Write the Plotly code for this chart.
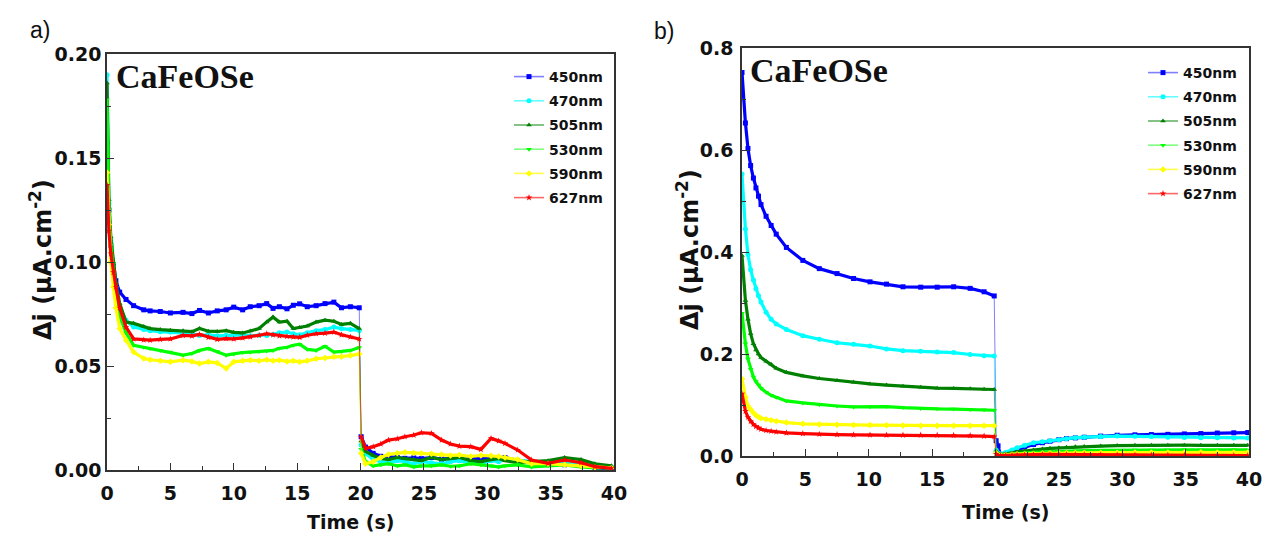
import plotly.graph_objects as go

W, H = 1263, 535

labels = ["450nm", "470nm", "505nm", "530nm", "590nm", "627nm"]
colors = ["#0000FF", "#00FFFF", "#008000", "#00FF00", "#FFFF00", "#FF0000"]
legend_line_colors = ["rgba(0,0,255,0.5)", "rgba(0,255,255,0.6)", "rgba(0,128,0,0.6)",
                      "rgba(0,255,0,0.5)", "rgba(255,255,0,0.7)", "rgba(255,0,0,0.6)"]
symbols = ["square", "circle", "triangle-up", "triangle-down", "diamond", "star"]

# ---------------- panel a) ----------------
ta_on = [0, 0.15, 0.3, 0.5, 0.7, 1.0, 1.5, 2.1, 2.9, 3.4, 4.2, 5, 6, 6.7, 7.3, 8, 8.7, 9.4, 10,
         10.7, 11.3, 12, 12.6, 13.1, 13.6, 14.2, 14.7, 15.2, 15.8, 16.5, 17.2, 17.9, 18.5, 19.2, 19.9]
a_450_on = [0.157, 0.125, 0.108, 0.098, 0.091, 0.0855, 0.082, 0.079, 0.077, 0.0765, 0.0762, 0.0755,
            0.0758, 0.0752, 0.0767, 0.0755, 0.0765, 0.077, 0.0783, 0.077, 0.0785, 0.079, 0.080,
            0.0777, 0.0785, 0.0775, 0.0792, 0.0799, 0.0785, 0.079, 0.080, 0.0807, 0.078, 0.0785, 0.078]
a_470_on = [0.19, 0.128, 0.11, 0.098, 0.088, 0.078, 0.072, 0.0687, 0.0675, 0.067, 0.0665, 0.0663,
            0.066, 0.0655, 0.0647, 0.065, 0.0645, 0.0648, 0.0647, 0.065, 0.0645, 0.0648, 0.0647,
            0.0652, 0.066, 0.0663, 0.0655, 0.065, 0.066, 0.067, 0.0675, 0.0687, 0.068, 0.0675, 0.0671]
a_505_on = [0.186, 0.13, 0.112, 0.1, 0.09, 0.08, 0.0711, 0.0705, 0.069, 0.068, 0.0675, 0.0672,
            0.067, 0.0665, 0.068, 0.0667, 0.0666, 0.067, 0.0662, 0.0659, 0.0668, 0.068, 0.0712,
            0.0735, 0.0711, 0.0715, 0.068, 0.0685, 0.0692, 0.0711, 0.072, 0.0715, 0.070, 0.0705, 0.068]
a_530_on = [0.178, 0.125, 0.108, 0.095, 0.085, 0.074, 0.066, 0.06, 0.059, 0.0584, 0.0575, 0.0567,
            0.0552, 0.056, 0.0575, 0.0584, 0.057, 0.0552, 0.0558, 0.0565, 0.0567, 0.057, 0.0572,
            0.0575, 0.0585, 0.059, 0.060, 0.0605, 0.058, 0.0575, 0.0595, 0.0567, 0.057, 0.0575, 0.0589]
a_590_on = [0.143, 0.118, 0.1, 0.088, 0.078, 0.068, 0.0624, 0.0567, 0.0536, 0.053, 0.0525, 0.052,
            0.0528, 0.0522, 0.0512, 0.052, 0.0515, 0.0488, 0.052, 0.0525, 0.0528, 0.0525, 0.053,
            0.0525, 0.0528, 0.0522, 0.0525, 0.052, 0.0525, 0.0535, 0.0538, 0.0544, 0.0545, 0.055, 0.0558]
a_627_on = [0.137, 0.115, 0.104, 0.095, 0.088, 0.078, 0.0687, 0.063, 0.0625, 0.0624, 0.0628, 0.063,
            0.0647, 0.0645, 0.0652, 0.0638, 0.0628, 0.0632, 0.063, 0.0635, 0.064, 0.0648, 0.0655,
            0.065, 0.0645, 0.0642, 0.064, 0.0638, 0.0648, 0.0655, 0.0658, 0.0663, 0.065, 0.064, 0.063]

ta_off = [20.05, 20.4, 21, 21.6, 22.2, 22.9, 23.5, 24.2, 24.8, 25.6, 26.4, 27.1, 27.8, 28.7, 29.5,
          30.3, 30.9, 31.4, 32.4, 33.5, 34.8, 36.1, 37.4, 38.5, 39.8]
a_450_off = [0.016, 0.011, 0.008, 0.0066, 0.0064, 0.006, 0.0056, 0.0058, 0.0055, 0.006, 0.0052, 0.0056,
             0.005, 0.0054, 0.0056, 0.0056, 0.0058, 0.006, 0.0045, 0.004, 0.0032, 0.0025, 0.0035, 0.001, 0.0005]
a_470_off = [0.012, 0.008, 0.005, 0.004, 0.0035, 0.0045, 0.004, 0.003, 0.004, 0.0035, 0.003, 0.004,
             0.0045, 0.0035, 0.003, 0.0045, 0.004, 0.005, 0.0045, 0.004, 0.0035, 0.004, 0.003, 0.002, 0.0015]
a_505_off = [0.014, 0.009, 0.007, 0.0055, 0.005, 0.006, 0.0055, 0.005, 0.0045, 0.006, 0.005, 0.0055,
             0.006, 0.0045, 0.004, 0.005, 0.0055, 0.0045, 0.0035, 0.004, 0.0045, 0.006, 0.005, 0.003, 0.002]
a_530_off = [0.01, 0.004, 0.002, 0.0025, 0.003, 0.002, 0.0025, 0.0015, 0.002, 0.002, 0.0025, 0.0018,
             0.002, 0.003, 0.0025, 0.002, 0.0015, 0.002, 0.0025, 0.0015, 0.002, 0.0025, 0.0015, 0.001, 0.001]
a_590_off = [0.008, 0.003, 0.004, 0.006, 0.0075, 0.008, 0.0085, 0.0082, 0.008, 0.0078, 0.0075, 0.007,
             0.0072, 0.0065, 0.007, 0.0068, 0.0065, 0.006, 0.005, 0.003, 0.003, 0.0025, 0.002, 0.0012, 0.001]
a_627_off = [0.016, 0.0104, 0.0112, 0.0125, 0.0144, 0.015, 0.016, 0.0168, 0.0179, 0.0176, 0.0144, 0.0125,
             0.0115, 0.0112, 0.0099, 0.0152, 0.014, 0.0128, 0.0096, 0.0048, 0.0032, 0.0048, 0.0035, 0.0016, 0.0008]

# ---------------- panel b) ----------------
tb_on = [0, 0.27, 0.47, 0.68, 0.9, 1.1, 1.3, 1.5, 1.9, 2.3, 2.7, 3.5, 4.8, 6.1, 7.5, 8.8, 10.1, 11.4,
         12.7, 14.1, 15.4, 16.7, 18.0, 19.1, 19.9]
b_450_on = [0.752, 0.653, 0.603, 0.5695, 0.545, 0.5256, 0.5095, 0.493, 0.47, 0.452, 0.435, 0.409, 0.3835,
            0.3674, 0.3577, 0.348, 0.3415, 0.337, 0.3318, 0.331, 0.331, 0.3318, 0.3287, 0.322, 0.3138]
b_470_on = [0.5527, 0.445, 0.395, 0.365, 0.345, 0.328, 0.314, 0.302, 0.282, 0.268, 0.259, 0.248, 0.236,
            0.229, 0.222, 0.219, 0.2156, 0.21, 0.2065, 0.2053, 0.204, 0.2027, 0.199, 0.1965, 0.196]
b_505_on = [0.393, 0.305, 0.268, 0.24, 0.22, 0.208, 0.2, 0.193, 0.186, 0.18, 0.172, 0.164, 0.157, 0.152,
            0.1478, 0.1445, 0.1414, 0.139, 0.137, 0.135, 0.133, 0.1325, 0.132, 0.131, 0.1304]
b_530_on = [0.28, 0.22, 0.19, 0.17, 0.155, 0.146, 0.139, 0.133, 0.125, 0.119, 0.115, 0.108, 0.104, 0.1007,
            0.098, 0.0962, 0.0965, 0.097, 0.095, 0.093, 0.0925, 0.092, 0.091, 0.0905, 0.0897]
b_590_on = [0.151, 0.115, 0.098, 0.091, 0.085, 0.080, 0.0765, 0.074, 0.072, 0.070, 0.068, 0.0655, 0.063,
            0.062, 0.0615, 0.061, 0.0607, 0.0602, 0.06, 0.0594, 0.0595, 0.0594, 0.0594, 0.0594, 0.0594]
b_627_on = [0.122, 0.088, 0.076, 0.068, 0.062, 0.058, 0.055, 0.0525, 0.05, 0.0485, 0.047, 0.0455, 0.044,
            0.0426, 0.042, 0.0415, 0.0413, 0.041, 0.041, 0.041, 0.0408, 0.0405, 0.040, 0.039, 0.038]

tb_off = [20.05, 20.2, 20.4, 20.8, 21.3, 21.7, 22.3, 23.0, 23.7, 24.3, 25.0, 25.6, 26.3, 27.0, 28.3,
          29.6, 31.0, 32.3, 33.6, 34.9, 36.2, 37.5, 38.8, 39.9]
b_450_off = [0.03, 0.02, 0.003, 0.005, 0.009, 0.013, 0.018, 0.0226, 0.026, 0.029, 0.032, 0.034, 0.0355,
             0.0368, 0.039, 0.0407, 0.0415, 0.042, 0.0425, 0.0433, 0.044, 0.045, 0.0455, 0.046]
b_470_off = [0.012, 0.006, 0.004, 0.007, 0.012, 0.016, 0.021, 0.026, 0.028, 0.03, 0.032, 0.034, 0.036,
             0.037, 0.038, 0.039, 0.0385, 0.038, 0.037, 0.0365, 0.036, 0.036, 0.0355, 0.0355]
b_505_off = [0.01, 0.005, 0.003, 0.004, 0.006, 0.008, 0.01, 0.012, 0.0135, 0.015, 0.016, 0.017, 0.018,
             0.0188, 0.0195, 0.0205, 0.021, 0.021, 0.021, 0.0212, 0.021, 0.0212, 0.021, 0.021]
b_530_off = [0.008, 0.003, 0.002, 0.003, 0.004, 0.005, 0.006, 0.007, 0.0078, 0.0085, 0.009, 0.0095, 0.01,
             0.0105, 0.011, 0.0115, 0.012, 0.012, 0.012, 0.0122, 0.012, 0.012, 0.0122, 0.012]
b_590_off = [0.006, 0.002, 0.001, 0.002, 0.003, 0.0035, 0.004, 0.0045, 0.005, 0.0052, 0.0055, 0.0058,
             0.006, 0.0062, 0.0065, 0.0066, 0.0068, 0.007, 0.007, 0.007, 0.0072, 0.007, 0.007, 0.007]
b_627_off = [0.004, 0.001, 0.001, 0.0015, 0.002, 0.0022, 0.0025, 0.0028, 0.003, 0.003, 0.003, 0.003,
             0.0028, 0.0028, 0.0026, 0.0025, 0.0022, 0.002, 0.0018, 0.0015, 0.0015, 0.0012, 0.001, 0.001]

a_on = [a_450_on, a_470_on, a_505_on, a_530_on, a_590_on, a_627_on]
a_off = [a_450_off, a_470_off, a_505_off, a_530_off, a_590_off, a_627_off]
b_on = [b_450_on, b_470_on, b_505_on, b_530_on, b_590_on, b_627_on]
b_off = [b_450_off, b_470_off, b_505_off, b_530_off, b_590_off, b_627_off]


def px(x):
    return x / W


def py(y):
    return 1 - y / H


fig = go.Figure()


def add_panel(t_on, t_off, on, off, xa, ya, legend):
    for i in range(6):
        c = colors[i]
        # thin connector at light switching
        fig.add_trace(go.Scatter(x=[t_on[-1], t_off[0]], y=[on[i][-1], off[i][0]], mode="lines",
                                 line=dict(color=legend_line_colors[i], width=1),
                                 xaxis=xa, yaxis=ya, showlegend=False, hoverinfo="skip"))
        for tt, vv in ((t_on, on[i]), (t_off, off[i])):
            fig.add_trace(go.Scatter(x=tt, y=vv, mode="lines+markers",
                                     line=dict(color=c, width=3.2),
                                     marker=dict(color=c, size=5, symbol=symbols[i]),
                                     xaxis=xa, yaxis=ya, showlegend=False, cliponaxis=True))
    for i in range(6):
        fig.add_trace(go.Scatter(x=[None], y=[None], mode="lines+markers", name=labels[i],
                                 line=dict(color=legend_line_colors[i], width=1.6),
                                 marker=dict(color=colors[i], size=5, symbol=symbols[i]),
                                 xaxis=xa, yaxis=ya, legend=legend, legendgroup=legend + labels[i]))


add_panel(ta_on, ta_off, a_on, a_off, "x", "y", "legend")
add_panel(tb_on, tb_off, b_on, b_off, "x2", "y2", "legend2")

tickfont = dict(family="DejaVu Sans", size=19, color="#111", weight="bold")
axis_common = dict(showline=True, linecolor="#333", linewidth=1.5, mirror=True, ticks="inside",
                   ticklen=7, tickwidth=1.3, tickcolor="#333", showgrid=False, zeroline=False,
                   tickfont=tickfont, automargin=False)

leg_font = dict(family="DejaVu Sans", size=14, color="#111", weight="bold")

fig.update_layout(
    width=W, height=H, margin=dict(l=0, r=0, t=0, b=0, autoexpand=False),
    plot_bgcolor="white", paper_bgcolor="white",
    xaxis=dict(domain=[px(107), px(614)], range=[0, 40], dtick=5, anchor="y", ticklabelstandoff=5,
               minor=dict(dtick=2.5, ticks="inside", ticklen=4, tickcolor="#333"), **axis_common),
    yaxis=dict(domain=[py(470), py(54)], range=[0, 0.2], dtick=0.05, tickformat=".2f", anchor="x",
               minor=dict(dtick=0.025, ticks="inside", ticklen=4, tickcolor="#333"), **axis_common),
    xaxis2=dict(domain=[px(742), px(1249)], range=[0, 40], dtick=5, anchor="y2", ticklabelstandoff=5,
                minor=dict(dtick=2.5, ticks="inside", ticklen=4, tickcolor="#333"), **axis_common),
    yaxis2=dict(domain=[py(456), py(48)], range=[0, 0.8], dtick=0.2, tickformat=".1f", anchor="x2",
                ticklabelstandoff=3,
                minor=dict(dtick=0.1, ticks="inside", ticklen=4, tickcolor="#333"), **axis_common),
    legend=dict(x=px(509), y=py(61), xanchor="left", yanchor="top", font=leg_font,
                bgcolor="rgba(0,0,0,0)", tracegroupgap=3, itemwidth=30),
    legend2=dict(x=px(1143), y=py(57), xanchor="left", yanchor="top", font=leg_font,
                 bgcolor="rgba(0,0,0,0)", tracegroupgap=3, itemwidth=30),
    showlegend=True,
)

ann = []
title_font = dict(family="DejaVu Sans", size=19, color="#111", weight="bold")
ytitle_font = dict(family="DejaVu Sans", size=24, color="#111", weight="bold")
ann.append(dict(text="a)", x=px(40), y=py(30), font=dict(family="Liberation Sans", size=23, color="#111")))
ann.append(dict(text="b)", x=px(664), y=py(31), font=dict(family="Liberation Sans", size=23, color="#111")))
ann.append(dict(text="<b>CaFeOSe</b>", x=px(114), y=py(76), xanchor="left",
                font=dict(family="Liberation Serif", size=34, color="#111")))
ann.append(dict(text="<b>CaFeOSe</b>", x=px(748), y=py(70), xanchor="left",
                font=dict(family="Liberation Serif", size=34, color="#111")))
ann.append(dict(text="Time (s)", x=px(350), y=py(522), font=title_font))
ann.append(dict(text="Time (s)", x=px(1005), y=py(512), font=title_font))
ann.append(dict(text="Δj (μA.cm<sup>-2</sup>)", x=px(41), y=py(260), textangle=-90, font=ytitle_font))
ann.append(dict(text="Δj (μA.cm<sup>-2</sup>)", x=px(688), y=py(250), textangle=-90, font=ytitle_font))
for a in ann:
    a.update(xref="paper", yref="paper", showarrow=False)
    a.setdefault("xanchor", "center")
    a.setdefault("yanchor", "middle")
fig.update_layout(annotations=ann)

fig.write_html("out.html")
